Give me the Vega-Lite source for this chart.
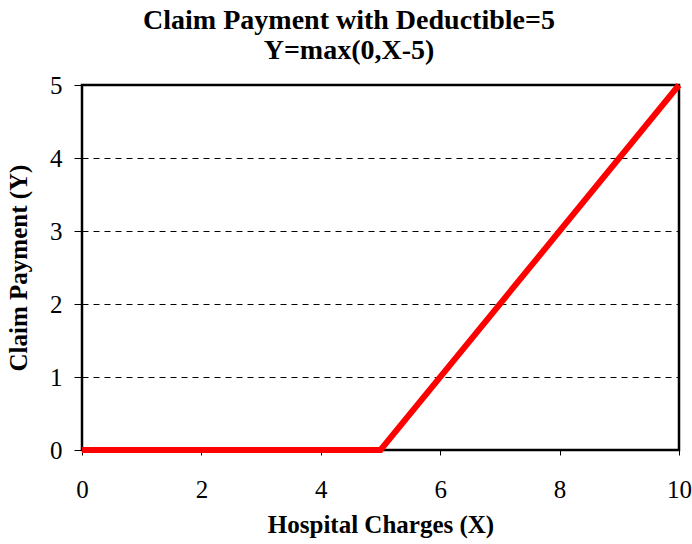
{
  "$schema": "https://vega.github.io/schema/vega-lite/v6.json",
  "width": 597,
  "height": 365,
  "autosize": {"type": "none"},
  "padding": {"left": 82, "top": 85, "right": 13, "bottom": 94},
  "background": "white",
  "title": {
    "text": ["Claim Payment with Deductible=5", "Y=max(0,X-5)"],
    "font": "Liberation Serif",
    "fontSize": 28,
    "fontWeight": "bold",
    "color": "black",
    "lineHeight": 30,
    "offset": 8,
    "anchor": "middle",
    "frame": "bounds"
  },
  "config": {
    "view": {"stroke": "black", "strokeWidth": 2.5},
    "axis": {
      "labelFont": "Liberation Serif",
      "labelFontSize": 25,
      "labelColor": "black",
      "titleFont": "Liberation Serif",
      "titleFontSize": 25,
      "titleFontWeight": "bold",
      "titleColor": "black",
      "domain": false,
      "tickColor": "black",
      "tickSize": 6,
      "labelFlush": false
    }
  },
  "data": {"values": [{"x": 0, "y": 0}, {"x": 5, "y": 0}, {"x": 10, "y": 5}]},
  "mark": {"type": "line", "color": "#ff0000", "strokeWidth": 6, "clip": false},
  "encoding": {
    "x": {
      "field": "x", "type": "quantitative",
      "scale": {"domain": [0, 10], "nice": false},
      "axis": {"values": [0, 2, 4, 6, 8, 10], "grid": false, "title": "Hospital Charges (X)", "labelPadding": 22, "titlePadding": 10, "tickSize": 5}
    },
    "y": {
      "field": "y", "type": "quantitative",
      "scale": {"domain": [0, 5], "nice": false},
      "axis": {"values": [0, 1, 2, 3, 4, 5], "grid": true, "gridColor": "black", "gridDash": [6, 5], "gridWidth": 1,
               "title": "Claim Payment (Y)", "labelPadding": 12, "titlePadding": 18, "tickSize": 8}
    }
  }
}
